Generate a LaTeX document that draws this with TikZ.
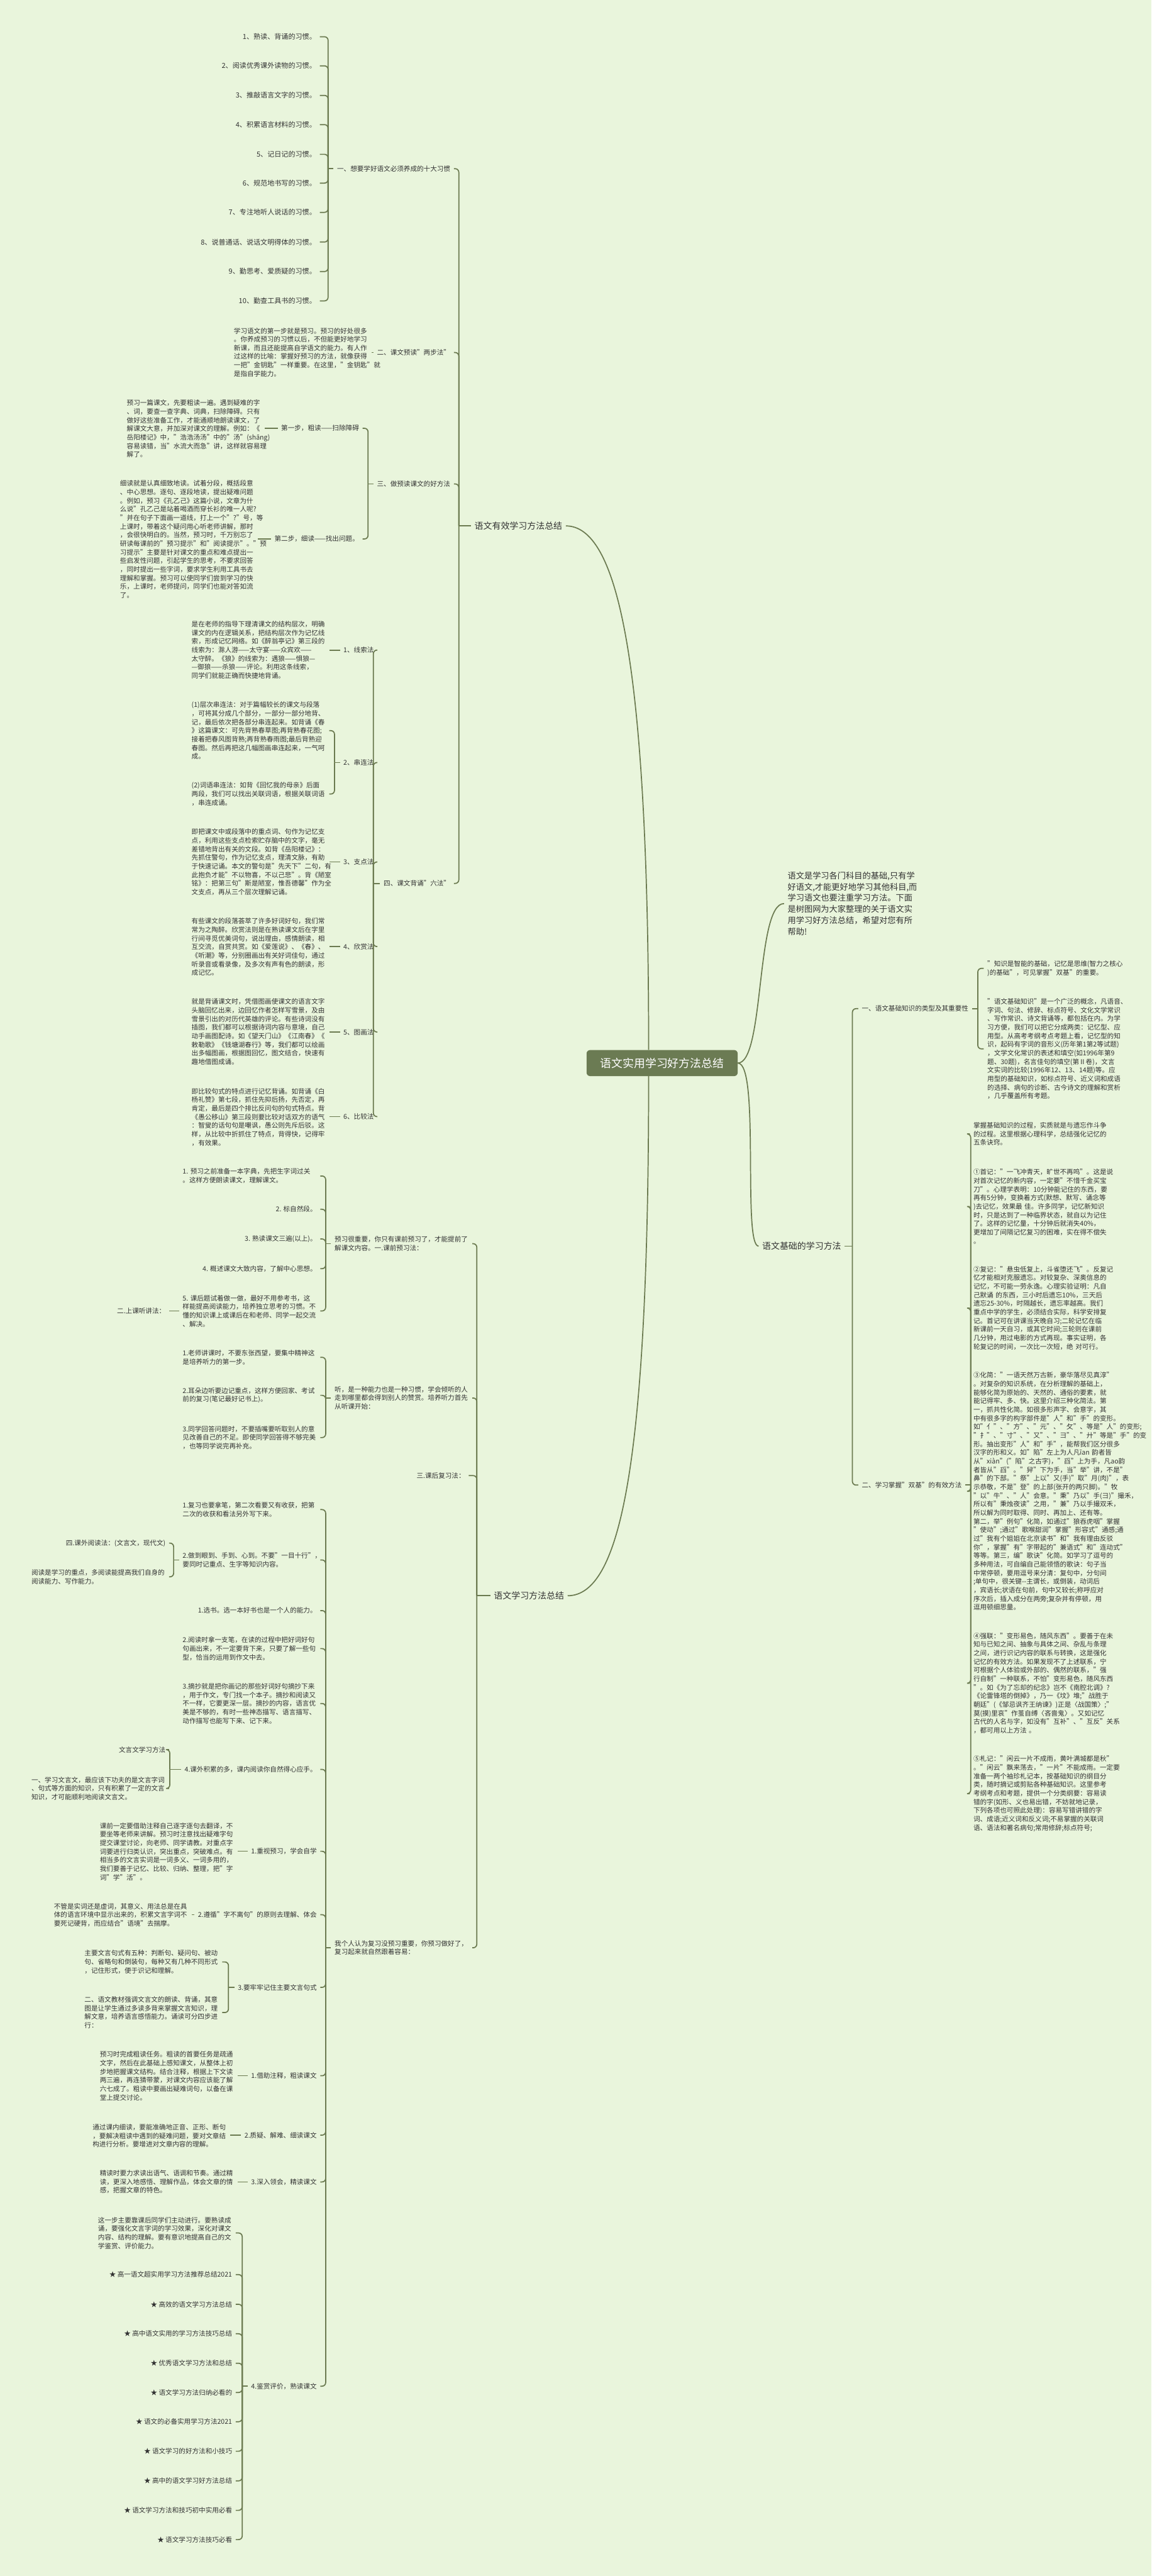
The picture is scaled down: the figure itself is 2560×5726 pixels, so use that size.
\documentclass[tikz,border=0pt]{standalone}
\usepackage{fontspec}
\setmainfont{Noto Sans CJK SC}
\usetikzlibrary{calc}
\definecolor{bgc}{HTML}{E9F5DC}
\definecolor{lnc}{HTML}{6B7A50}
\definecolor{txc}{HTML}{333333}
\definecolor{rootc}{HTML}{6B7B53}
\newcommand{\brL}[3]{%
  \draw[ln] (#1.west) -- ++(-#2,0);
  \foreach \cc in {#3}{\draw[br] ($(#1.west)+(-#2,0)$) |- (\cc.east);}}
\newcommand{\brR}[3]{%
  \draw[ln] (#1.east) -- ++(#2,0);
  \foreach \cc in {#3}{\draw[br] ($(#1.east)+(#2,0)$) |- (\cc.west);}}
\newcommand{\dashL}[2]{\draw[ln] (#1.west) -- (#1.west -| #2.east);}
\begin{document}
\begin{tikzpicture}[x=1pt,y=-1pt,
  tx/.style={font=\fontsize{14.8}{19.1}\selectfont, text=txc, align=left, inner sep=2pt, outer sep=6pt},
  pa/.style={tx, text width=298pt, execute at begin node={\exhyphenpenalty=10000\hyphenpenalty=10000\relax}},
  tl/.style={tx, font=\fontsize{15.5}{19.1}\selectfont},
  lv/.style={tx, font=\fontsize{19.5}{24}\selectfont},
  ln/.style={draw=lnc, line width=2.4pt},
  br/.style={ln, rounded corners=8pt},
  root/.style={fill=rootc, text=white, rounded corners=8pt, font=\fontsize{25}{30}\selectfont, minimum width=336pt, minimum height=58pt, inner sep=0pt}]
\fill[bgc] (0,0) rectangle (2560,5726);
\useasboundingbox (0,0) rectangle (2560,5726);

% ---------- root and level 1 ----------
\node[root] (root) at (1472,2363) {语文实用学习好方法总结};
\node[lv,anchor=east] (YX) at (1258,1169) {语文有效学习方法总结};
\node[lv,anchor=west] (YF) at (1090,3547) {语文学习方法总结};
\node[lv,anchor=east] (JC) at (1878,2770) {语文基础的学习方法};
\node[tx,font=\fontsize{18.5}{25}\selectfont,anchor=west] (IN) at (1743,2008.5) {语文是学习各门科目的基础,只有学\\好语文,才能更好地学习其他科目,而\\学习语文也要注重学习方法。下面\\是树图网为大家整理的关于语文实\\用学习好方法总结，希望对您有所\\帮助!};

\draw[ln] ([xshift=-30pt]root.north) .. controls (1442,1450) and (1370,1169) .. (YX.east);
\draw[ln] ([xshift=-30pt]root.south) .. controls (1442,3250) and (1380,3547) .. (YF.east);
\draw[ln] (root.east) .. controls (1700,2363) and (1680,2008) .. (IN.west);
\draw[ln] (root.east) .. controls (1690,2363) and (1650,2770) .. (JC.west);

% ---------- top branch ----------
\node[tl,anchor=east] (a1) at (711,81.7) {1、熟读、背诵的习惯。};
\node[tl,anchor=east] (a2) at (711,146.4) {2、阅读优秀课外读物的习惯。};
\node[tl,anchor=east] (a3) at (711,212) {3、推敲语言文字的习惯。};
\node[tl,anchor=east] (a4) at (711,277) {4、积累语言材料的习惯。};
\node[tl,anchor=east] (a5) at (711,343) {5、记日记的习惯。};
\node[tl,anchor=east] (a6) at (711,407) {6、规范地书写的习惯。};
\node[tl,anchor=east] (a7) at (711,472) {7、专注地听人说话的习惯。};
\node[tl,anchor=east] (a8) at (711,538) {8、说普通话、说话文明得体的习惯。};
\node[tl,anchor=east] (a9) at (711,603.6) {9、勤思考、爱质疑的习惯。};
\node[tl,anchor=east] (a10) at (711,668.8) {10、勤查工具书的习惯。};

\node[tx,anchor=east] (A1) at (1009,375) {一、想要学好语文必须养成的十大习惯};
\node[tx,anchor=east] (A2) at (1009,783.6) {二、课文预读"两步法"};
\node[pa,anchor=west] (P2) at (512,783) {学习语文的第一步就是预习。预习的好处很多\\。你养成预习的习惯以后，不但能更好地学习\\新课，而且还能提高自学语文的能力。有人作\\过这样的比喻：掌握好预习的方法，就像获得\\一把"金钥匙"一样重要。在这里，"金钥匙"就\\是指自学能力。};
\node[tx,anchor=east] (A3) at (1009,1075.7) {三、做预读课文的好方法};
\node[tx,anchor=east] (S1) at (806,952) {第一步，粗读——扫除障碍};
\node[pa,anchor=west] (Q1) at (274,952.9) {预习一篇课文，先要粗读一遍。遇到疑难的字\\、词，要查一查字典、词典，扫除障碍。只有\\做好这些准备工作，才能通顺地朗读课文，了\\解课文大意，并加深对课文的理解。例如：《\\岳阳楼记》中，"浩浩汤汤"中的"汤"(shāng)\\容易读错，当"水流大而急"讲，这样就容易理\\解了。};
\node[tx,anchor=east] (S2) at (806,1198) {第二步，细读——找出问题。};
\node[pa,anchor=west] (Q2) at (259,1198.8) {细读就是认真细致地读。试着分段，概括段意\\、中心思想。逐句、逐段地读，提出疑难问题\\。例如，预习《孔乙己》这篇小说，文章为什\\么说"孔乙己是站着喝酒而穿长衫的唯一人呢?\\"并在句子下面画一道线，打上一个"?"号，等\\上课时，带着这个疑问用心听老师讲解，那时\\，会很快明白的。当然，预习时，千万别忘了\\研读每课前的"预习提示"和"阅读提示"。"预\\习提示"主要是针对课文的重点和难点提出一\\些启发性问题，引起学生的思考，不要求回答\\，同时提出一些字词，要求学生利用工具书去\\理解和掌握。预习可以使同学们尝到学习的快\\乐，上课时，老师提问，同学们也能对答如流\\了。};
\node[tx,anchor=east] (A4) at (1009,1963.7) {四、课文背诵"六法"};
\node[tx,anchor=east] (B1) at (839,1445) {1、线索法};
\node[tx,anchor=east] (B2) at (839,1695) {2、串连法};
\node[tx,anchor=east] (B3) at (839,1916) {3、支点法};
\node[tx,anchor=east] (B4) at (839,2104) {4、欣赏法};
\node[tx,anchor=east] (B5) at (839,2294) {5、图画法};
\node[tx,anchor=east] (B6) at (839,2482) {6、比较法};
\node[pa,anchor=west] (R1) at (418,1444.5) {是在老师的指导下理清课文的结构层次，明确\\课文的内在逻辑关系，把结构层次作为记忆线\\索，形成记忆网络。如《醉翁亭记》第三段的\\线索为：滁人游——太守宴——众宾欢——\\太守醉。《狼》的线索为：遇狼——惧狼—\\—御狼——杀狼——评论。利用这条线索，\\同学们就能正确而快捷地背诵。};
\node[pa,anchor=west] (R2a) at (418,1624) {(1)层次串连法：对于篇幅较长的课文与段落\\，可将其分成几个部分，一部分一部分地背、\\记，最后依次把各部分串连起来。如背诵《春\\》这篇课文：可先背熟春草图;再背熟春花图;\\接着把春风图背熟;再背熟春雨图;最后背熟迎\\春图。然后再把这几幅图画串连起来，一气呵\\成。};
\node[pa,anchor=west] (R2b) at (418,1765) {(2)词语串连法：如背《回忆我的母亲》后面\\两段，我们可以找出关联词语，根据关联词语\\，串连成诵。};
\node[pa,anchor=west] (R3) at (418,1916) {即把课文中或段落中的重点词、句作为记忆支\\点，利用这些支点检索贮存脑中的文字，毫无\\差错地背出有关的文段。如背《岳阳楼记》：\\先抓住警句，作为记忆支点，理清文脉，有助\\于快速记诵。本文的警句是"先天下"二句，有\\此抱负才能"不以物喜，不以己悲"。背《陋室\\铭》：把第三句"斯是陋室，惟吾德馨"作为全\\文支点，再从三个层次理解记诵。};
\node[pa,anchor=west] (R4) at (418,2105) {有些课文的段落荟萃了许多好词好句，我们常\\常为之陶醉。欣赏法则是在熟读课文后在字里\\行间寻觅优美词句，说出理由，感情朗读，相\\互交流，自赏共赏。如《爱莲说》、《春》、\\《听潮》等，分别圈画出有关好词佳句，通过\\听录音或看录像，及多次有声有色的朗读，形\\成记忆。};
\node[pa,anchor=west] (R5) at (418,2293.5) {就是背诵课文时，凭借图画使课文的语言文字\\头脑回忆出来，边回忆作者怎样写雪景，及由\\雪景引出的对历代英雄的评论。有些诗词没有\\插图，我们都可以根据诗词内容与意境，自己\\动手画图配诗。如《望天门山》《江南春》《\\敕勒歌》《钱塘湖春行》等，我们都可以绘画\\出多幅图画，根据图回忆，图文结合，快速有\\趣地借图成诵。};
\node[pa,anchor=west] (R6) at (418,2483) {即比较句式的特点进行记忆背诵。如背诵《白\\杨礼赞》第七段，抓住先抑后扬，先否定，再\\肯定，最后是四个排比反问句的句式特点。背\\《愚公移山》第三段则要比较对话双方的语气\\：智叟的话句句是嘲讽，愚公则先斥后驳。这\\样，从比较中折抓住了特点，背得快，记得牢\\，有效果。};

\brL{YX}{27}{A1,A2,A3,A4}
\brL{A1}{12}{a1,a2,a3,a4,a5,a6,a7,a8,a9,a10}
\dashL{A2}{P2}
\brL{A3}{12}{S1,S2}
\dashL{S1}{Q1}
\dashL{S2}{Q2}
\brL{A4}{15}{B1,B2,B3,B4,B5,B6}
\dashL{B1}{R1}
\brL{B2}{12}{R2a,R2b}
\dashL{B3}{R3}
\dashL{B4}{R4}
\dashL{B5}{R5}
\dashL{B6}{R6}

% ---------- right branch ----------
\node[tx,anchor=west] (C1) at (1908,2242) {一、语文基础知识的类型及其重要性};
\node[tx,anchor=west] (C2) at (1908,3301) {二、学习掌握"双基"的有效方法};
\node[pa,anchor=west] (D1) at (2187,2152.5) {"知识是智能的基础，记忆是思维(智力之核心\\)的基础"，可见掌握"双基"的重要。};
\node[pa,anchor=west] (D2) at (2187,2331.5) {"语文基础知识"是一个广泛的概念，凡语音、\\字词、句法、修辞、标点符号、文化文学常识\\、写作常识、诗文背诵等，都包括在内。为学\\习方便，我们可以把它分成两类：记忆型、应\\用型。从高考考纲考点考题上看，记忆型的知\\识，起码有字词的音形义(历年第1第2等试题)\\，文学文化常识的表述和填空(如1996年第9\\题、30题)，名言佳句的填空(第Ⅱ卷)，文言\\文实词的比较(1996年12、13、14题)等。应\\用型的基础知识，如标点符号、近义词和成语\\的选择、病句的诊断、古今诗文的理解和赏析\\，几乎覆盖所有考题。};
\node[pa,anchor=west] (E0) at (2156,2520.5) {掌握基础知识的过程，实质就是与遗忘作斗争\\的过程。这里根据心理科学，总结强化记忆的\\五条诀窍。};
\node[pa,anchor=west] (E1) at (2156,2681.8) {①首记："一飞冲青天，旷世不再鸣"。这是说\\对首次记忆的新内容，一定要"不惜千金买宝\\刀"。心理学表明：10分钟能记住的东西，要\\再有5分钟，变换着方式(默想、默写、诵念等\\)去记忆，效果最~佳。许多同学，记忆新知识\\时，只是达到了一种临界状态，就自以为记住\\了。这样的记忆量，十分钟后就消失40\%，\\更增加了间隔记忆复习的困难，实在得不偿失\\。};
\node[pa,anchor=west] (E2) at (2156,2907.5) {②复记："悬虫低复上，斗雀堕还飞"。反复记\\忆才能相对克服遗忘。对较复杂、深奥信息的\\记忆，不可能一劳永逸。心理实验证明：凡自\\己默诵~的东西，三小时后遗忘10\%，三天后\\遗忘25-30\%，时隔越长，遗忘率越高。我们\\重点中学的学生，必须结合实际，科学安排复\\记。首记可在讲课当天晚自习;二轮记忆在临\\新课前一天自习，或其它时间;三轮则在课前\\几分钟，用过电影的方式再现。事实证明，各\\轮复记的时间，一次比一次短，绝~对可行。};
\node[pa,anchor=west] (E3) at (2156,3314.8) {③化简："一语天然万古新，豪华落尽见真淳"\\。对复杂的知识系统，在分析理解的基础上，\\能够化简为原始的、天然的、通俗的要素，就\\能记得牢、多、快。这里介绍三种化简法。第\\一，抓共性化简。如很多形声字、会意字，其\\中有很多字的构字部件是"人"和"手"的变形。\\如"亻"、"方"、"元"、"攵"、等是"人"的变形;\\"扌"、"寸"、"又"、"彐"、"廾"等是"手"的变\\形。抽出变形"人"和"手"，能帮我们区分很多\\汉字的形和义。如"陷"左上为人凡īan~韵者皆\\从"xiàn"("陷"之古字)，"舀"上为手，凡ao韵\\者皆从"舀"。"舁"下为手，当"举"讲，不是"\\鼻"的下部。"祭"上以"又(手)"取"月(肉)"，表\\示恭敬，不是"登"的上部(张开的两只脚)。"牧\\"以"牛"、"人"会意。"秉"乃以"手(彐)"撮禾，\\所以有"秉烛夜读"之用，"兼"乃以手撮双禾，\\所以解为同时取得、同时、再加上、还有等。\\第二，举"例句"化简，如通过"狼吞虎咽"掌握\\"使动";通过"歌喉甜润"掌握"形容式"通感;通\\过"我有个姐姐在北京读书"和"我有理由反驳\\你"，掌握"有"字带起的"兼语式"和"连动式"\\等等。第三，编"歌诀"化简。如学习了逗号的\\多种用法，可自编自己能领悟的歌诀：句子当\\中常停顿，要用逗号来分清：复句中，分句间\\;单句中，很关键-{}-主谓长，或倒装，动词后\\，宾语长;状语在句前，句中又较长;称呼应对\\序次后，插入成分在两旁;复杂并有停顿，用\\逗用顿细思量。};
\node[pa,anchor=west] (E4) at (2156,3741.5) {④强联："变形易色，随风东西"。要善于在未\\知与已知之间、抽象与具体之间、杂乱与条理\\之间，进行识记内容的联系与转换，这是强化\\记忆的有效方法。如果发现不了上述联系，宁\\可根据个人体验或外部的、偶然的联系，"强\\行自制"一种联系，不怕"变形易色，随风东西\\"。如《为了忘却的纪念》岂不《南腔北调》?\\《论雷锋塔的倒掉》，乃一《坟》堆;"战胜于\\朝廷"(《邹忌讽齐王纳谏》)正是〈战国策〉;"\\莫(摸)里哀"作茧自缚〈吝啬鬼〉。又如记忆\\古代的人名与字，如没有"互补"、"互反"关系\\，都可用以上方法~。};
\node[pa,anchor=north west] (E5) at (2156,3895) {⑤札记："闲云一片不成雨，黄叶满城都是秋"\\。"闲云"飘来荡去，"一片"不能成雨。一定要\\准备一两个袖珍札记本，按基础知识的纲目分\\类，随时摘记或剪贴各种基础知识。这里参考\\考纲考点和考题，提供一个分类纲要：容易读\\错的字(如形、义也易出错，不妨就地记录，\\下列各项也可照此处理)：容易写错讲错的字\\词、成语;近义词和反义词;不易掌握的关联词\\语、语法和著名病句;常用修辞;标点符号;};

\brR{JC}{17}{C1,C2}
\brR{C1}{13}{D1,D2}
\brR{C2}{12}{E0,E1,E2,E3,E4,E5}

% ---------- lower branch ----------
\node[pa,anchor=east] (F1) at (1050,2764.5) {预习很重要，你只有课前预习了，才能提前了\\解课文内容。一.课前预习法：};
\node[pa,anchor=east] (F2) at (1050,3107.5) {听，是一种能力也是一种习惯，学会倾听的人\\走到哪里都会得到别人的赞赏。培养听力首先\\从听课开始：};
\node[tx,anchor=east] (F3) at (1042,3280) {三.课后复习法：};
\node[pa,anchor=east] (F4) at (1050,4329.5) {我个人认为复习没预习重要，你预习做好了，\\复习起来就自然跟着容易：};

\node[pa,anchor=west] (G1) at (398,2614) {1.~预习之前准备一本字典，先把生字词过关\\。这样方便朗读课文，理解课文。};
\node[tx,anchor=east] (G2) at (712,2688) {2. 标自然段。};
\node[tx,anchor=east] (G3) at (712,2754) {3. 熟读课文三遍(以上)。};
\node[tx,anchor=east] (G4) at (712,2820) {4. 概述课文大致内容，了解中心思想。};
\node[pa,anchor=west] (G5) at (398,2914) {5.~课后题试着做一做，最好不用参考书，这\\样能提高阅读能力，培养独立思考的习惯。不\\懂的知识课上或课后在和老师、同学一起交流\\、解决。};
\node[tx,anchor=east] (H) at (376,2914) {二.上课听讲法：};

\node[pa,anchor=west] (K1) at (398,3017) {1.老师讲课时，不要东张西望，要集中精神这\\是培养听力的第一步。};
\node[pa,anchor=west] (K2) at (398,3101.5) {2.耳朵边听要边记重点，这样方便回家、考试\\前的复习(笔记最好记书上)。};
\node[pa,anchor=west] (K3) at (398,3195.5) {3.同学回答问题时，不要插嘴要听取别人的意\\见改善自己的不足。即使同学回答得不够完美\\，也等同学说完再补充。};

\node[pa,anchor=west] (L1) at (398,3355.5) {1.复习也要拿笔，第二次看要又有收获，把第\\二次的收获和看法另外写下来。};
\node[pa,anchor=west] (L2) at (398,3467.5) {2.做到眼到、手到、心到。不要"一目十行"，\\要同时记重点、生字等知识内容。};
\node[tx,anchor=east] (M1) at (376,3430) {四.课外阅读法：(文言文，现代文)};
\node[pa,anchor=east] (M2) at (376,3505) {阅读是学习的重点，多阅读能提高我们自身的\\阅读能力、写作能力。};
\node[tx,anchor=east] (L3) at (712,3580) {1.选书。选一本好书也是一个人的能力。};
\node[pa,anchor=west] (L4) at (398,3664.5) {2.阅读时拿一支笔，在读的过程中把好词好句\\句画出来，不一定要背下来，只要了解一些句\\型，恰当的运用到作文中去。};
\node[pa,anchor=west] (L5) at (398,3786.5) {3.摘抄就是把你画记的那些好词好句摘抄下来\\，用于作文，专门找一个本子。摘抄和阅读又\\不一样，它要更深一层。摘抄的内容，语言优\\美是不够的，有时一些神态描写、语言描写、\\动作描写也能写下来、记下来。};
\node[tx,anchor=east] (L6) at (712,3933) {4.课外积累的多，课内阅读你自然得心应手。};
\node[tx,anchor=east] (N1) at (376,3889) {文言文学习方法};
\node[pa,anchor=east] (N2) at (376,3975.5) {一、学习文言文，最应该下功夫的是文言字词\\、句式等方面的知识，只有积累了一定的文言\\知识，才可能顺利地阅读文言文。};
\node[tx,anchor=east] (L7) at (712,4115) {1.重视预习，学会自学};
\node[pa,anchor=west] (O1) at (214,4115.5) {课前一定要借助注释自己逐字逐句去翻译，不\\要坐等老师来讲解。预习时注意找出疑难字句\\提交课堂讨论，向老师、同学请教。对重点字\\词要进行归类认识，突出重点，突破难点。有\\相当多的文言实词是一词多义、一词多用的，\\我们要善于记忆、比较、归纳、整理，把"字\\词"学"活"。};
\node[tx,anchor=east] (L8) at (712,4256) {2.遵循"字不离句"的原则去理解、体会};
\node[pa,anchor=west] (O2) at (112,4256.5) {不管是实词还是虚词，其意义、用法总是在具\\体的语言环境中显示出来的，积累文言字词不\\要死记硬背，而应结合"语境"去揣摩。};
\node[tx,anchor=east] (L9) at (712,4417.5) {3.要牢牢记住主要文言句式};
\node[pa,anchor=west] (O3a) at (180,4361) {主要文言句式有五种：判断句、疑问句、被动\\句、省略句和倒装句，每种又有几种不同形式\\，记住形式，便于识记和理解。};
\node[pa,anchor=west] (O3b) at (180,4473.5) {二、语文教材强调文言文的朗读、背诵，其意\\图是让学生通过多读多背来掌握文言知识，理\\解文意，培养语言感悟能力。诵读可分四步进\\行：};
\node[tx,anchor=east] (L10) at (712,4614) {1.借助注释，粗读课文};
\node[pa,anchor=west] (O4) at (214,4614.5) {预习时完成粗读任务。粗读的首要任务是疏通\\文字，然后在此基础上感知课文，从整体上初\\步地把握课文结构。结合注释，根据上下文读\\两三遍，再连猜带蒙，对课文内容应该能了解\\六七成了。粗读中要画出疑难词句，以备在课\\堂上提交讨论。};
\node[tx,anchor=east] (L11) at (712,4746) {2.质疑、解难、细读课文};
\node[pa,anchor=west] (O5) at (198,4747.5) {通过课内细读，要能准确地正音、正形、断句\\，要解决粗读中遇到的疑难问题，要对文章结\\构进行分析。要增进对文章内容的理解。};
\node[tx,anchor=east] (L12) at (712,4850) {3.深入领会，精读课文};
\node[pa,anchor=west] (O6) at (214,4850) {精读时要力求读出语气、语调和节奏。通过精\\读，更深入地感悟、理解作品，体会文章的情\\感，把握文章的特色。};
\node[tx,anchor=east] (L13) at (712,5304) {4.鉴赏评价，熟读课文};
\node[pa,anchor=west] (O7) at (210,4963.5) {这一步主要靠课后同学们主动进行。要熟读成\\诵，要强化文言字词的学习效果，深化对课文\\内容、结构的理解。要有意识地提高自己的文\\学鉴赏、评价能力。};
\node[tx,anchor=east] (T1) at (524,5056) {★ 高一语文超实用学习方法推荐总结2021};
\node[tx,anchor=east] (T2) at (524,5122) {★ 高效的语文学习方法总结};
\node[tx,anchor=east] (T3) at (524,5187.5) {★ 高中语文实用的学习方法技巧总结};
\node[tx,anchor=east] (T4) at (524,5253) {★ 优秀语文学习方法和总结};
\node[tx,anchor=east] (T5) at (524,5318) {★ 语文学习方法归纳必看的};
\node[tx,anchor=east] (T6) at (524,5383) {★ 语文的必备实用学习方法2021};
\node[tx,anchor=east] (T7) at (524,5448.6) {★ 语文学习的好方法和小技巧};
\node[tx,anchor=east] (T8) at (524,5514.5) {★ 高中的语文学习好方法总结};
\node[tx,anchor=east] (T9) at (524,5580) {★ 语文学习方法和技巧初中实用必看};
\node[tx,anchor=east] (T10) at (524,5645) {★ 语文学习方法技巧必看};

\brL{YF}{30}{F1,F2,F3,F4}
\brL{F1}{12}{G1,G2,G3,G4,G5}
\dashL{G5}{H}
\brL{F2}{12}{K1,K2,K3}
\brL{F4}{12}{L1,L2,L3,L4,L5,L6,L7,L8,L9,L10,L11,L12,L13}
\brL{L2}{12}{M1,M2}
\brL{L6}{25}{N1,N2}
\dashL{L7}{O1}
\dashL{L8}{O2}
\brL{L9}{13}{O3a,O3b}
\dashL{L10}{O4}
\dashL{L11}{O5}
\dashL{L12}{O6}
\brL{L13}{12}{O7,T1,T2,T3,T4,T5,T6,T7,T8,T9,T10}
\end{tikzpicture}
\end{document}
